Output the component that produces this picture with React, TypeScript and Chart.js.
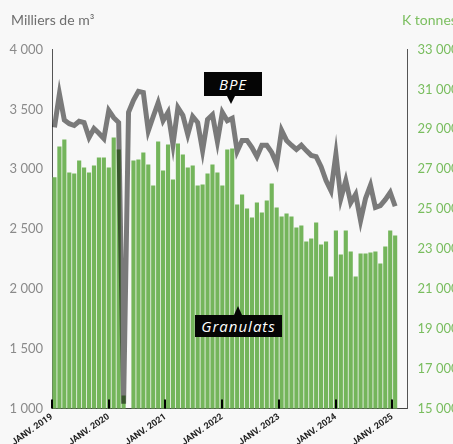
import React, { useEffect, useRef } from 'react';
import Chart from 'chart.js/auto';

// Categories: monthly slots of the x axis (Jan 2019 – Dec 2024)
const monthNames = ['janv.', 'févr.', 'mars', 'avr.', 'mai', 'juin', 'juil.', 'août', 'sept.', 'oct.', 'nov.', 'déc.'];
const years = [2019, 2020, 2021, 2022, 2023, 2024];
const categories = years.flatMap((y) => monthNames.map((m) => `${m} ${y}`));

// Year tick labels shown on the axis
const yearTicks = [2019, 2020, 2021, 2022, 2023, 2024, 2025];

// Granulats (K tonnes, right axis)
const granulats: (number | null)[] = [
  26600, 28140, 28490, 26830, 26780, 27430, 27080, 26830, 27180, 27590,
  27590, 27080, 28590, 27990, 15650, null, 27430, 27490, 27840, 27230,
  26180, 28390, 26930, 28240, 26480, 28290, 27740, 27080, 27180, 26180,
  26230, 26780, 27230, 26830, 26180, 27990, 28040, 25230, 25730, 25030,
  24580, 25330, 24830, 25430, 26280, 25080, 24630, 24780, 24630, 24080,
  24180, 23370, 23520, 24330, 23220, 23370, 21620, 23930, 22720, 23930,
  22870, 21620, 22770, 22770, 22820, 22870, 22270, 23120, 23930, 23670,
];

// BPE (milliers de m³, left axis)
const bpe: number[] = [
  3350, 3630, 3410, 3380, 3365, 3400, 3390, 3265, 3340, 3300,
  3255, 3490, 3430, 3390, 1040, 3475, 3575, 3650, 3640, 3320,
  3440, 3555, 3405, 3475, 3205, 3515, 3450, 3290, 3440, 3390,
  3155, 3415, 3455, 3230, 3475, 3405, 3425, 3150, 3240, 3240,
  3180, 3105, 3200, 3200, 3140, 3045, 3325, 3240, 3200, 3165,
  3200, 3155, 3115, 3105, 3020, 2905, 2820, 3125, 2755, 2905,
  2720, 2790, 2570, 2755, 2865, 2680, 2695, 2745, 2805, 2690,
];

// Axis ranges
const leftRange = [1000, 4000];
const leftStep = 500;
const rightRange = [15000, 33000];
const rightStep = 2000;

const fmt = (v: number) => String(v).replace(/\B(?=(\d{3})+(?!\d))/g, ' ');

export default function App() {
  const ref = useRef<HTMLCanvasElement>(null);

  useEffect(() => {
    const canvas = ref.current;
    if (!canvas) return;

    const blend = {
      id: 'blend',
      beforeDatasetDraw(chart: any, args: any) {
        if (args.meta.type === 'line') {
          chart.ctx.save();
          chart.ctx.globalCompositeOperation = 'multiply';
        }
      },
      afterDatasetDraw(chart: any, args: any) {
        if (args.meta.type === 'line') chart.ctx.restore();
      },
    };

    const yearMarks = {
      id: 'yearMarks',
      afterDatasetsDraw(chart: any) {
        const s = chart.scales.xt;
        const { bottom } = chart.chartArea;
        const c = chart.ctx;
        c.save();
        c.fillStyle = '#000';
        yearTicks.forEach((y) => {
          const x = s.getPixelForValue(y);
          c.fillRect(Math.round(x) - 1, bottom - 9, 2, 9);
        });
        c.restore();
      },
    };

    const chart = new Chart(canvas, {
      type: 'bar',
      data: {
        labels: categories,
        datasets: [
          {
            type: 'line',
            label: 'BPE',
            data: bpe,
            yAxisID: 'y',
            xAxisID: 'x',
            borderColor: '#7a7a7a',
            borderWidth: 5,
            pointRadius: 0,
            tension: 0,
            order: 0,
          } as any,
          {
            type: 'bar',
            label: 'Granulats',
            data: granulats,
            yAxisID: 'y2',
            xAxisID: 'x',
            backgroundColor: '#74b55b',
            categoryPercentage: 1,
            barPercentage: 0.84,
            order: 1,
          } as any,
        ],
      },
      options: {
        responsive: false,
        animation: false,
        devicePixelRatio: 1,
        layout: { padding: { top: 49.5, left: 0, right: 0, bottom: 0 } },
        plugins: { legend: { display: false }, tooltip: { enabled: false } },
        scales: {
          x: { type: 'category', display: false, offset: true },
          xt: {
            type: 'linear',
            position: 'bottom',
            offset: false,
            min: 2019,
            max: 2025.268,
            afterFit: (s: any) => { s.height = 35.5; },
            grid: { display: false, drawTicks: false, offset: false },
            border: { display: true, color: '#444', dash: [1, 2] },
            ticks: {
              stepSize: 1,
              includeBounds: false,
              autoSkip: false,
              minRotation: 35,
              maxRotation: 35,
              padding: 3,
              color: '#222',
              font: { family: 'Roboto, sans-serif', size: 9, weight: 'bold' },
              callback: (v: any) => 'JANV. ' + v,
            },
          } as any,
          y: {
            position: 'left',
            min: leftRange[0],
            max: leftRange[1],
            afterFit: (s: any) => { s.width = 52; },
            grid: { display: false, drawTicks: false },
            border: { display: true, color: '#555', dash: [1, 2] },
            ticks: {
              stepSize: leftStep,
              padding: 9,
              color: '#8a8a8a',
              font: { family: 'Lato', size: 13 },
              callback: (v: any) => fmt(v),
            },
          } as any,
          y2: {
            position: 'right',
            min: rightRange[0],
            max: rightRange[1],
            afterFit: (s: any) => { s.width = 45.5; },
            grid: { display: false, drawTicks: false },
            border: { display: true, color: '#555', dash: [1, 2] },
            ticks: {
              stepSize: rightStep,
              padding: 10,
              color: '#79bd5e',
              font: { family: 'Lato', size: 13 },
              callback: (v: any) => fmt(v),
            },
          } as any,
        },
      },
      plugins: [blend, yearMarks],
    });
    return () => chart.destroy();
  }, []);

  const boxText: React.CSSProperties = {
    position: 'absolute',
    background: '#050505',
    color: '#fff',
    fontFamily: '"Open Sans", sans-serif',
    fontStyle: 'italic',
    fontSize: 15,
    letterSpacing: 1,
    display: 'flex',
    alignItems: 'center',
    justifyContent: 'center',
  };

  return (
    <div style={{ position: 'relative', width: 453, height: 444, overflow: 'hidden', background: '#f8f8f8' }}>
      <style>{`body{margin:0;background:#f8f8f8}`}</style>
      <canvas ref={ref} width={453} height={444} style={{ position: 'absolute', left: 0, top: 0, width: 453, height: 444 }} />
      <div style={{ position: 'absolute', left: 11, top: 13, fontFamily: 'Lato', fontSize: 14, lineHeight: '14px', color: '#6e6e6e', whiteSpace: 'nowrap' }}>
        Milliers de m³
      </div>
      <div style={{ position: 'absolute', left: 402, top: 13, fontFamily: 'Lato', fontSize: 14, lineHeight: '14px', color: '#7cbf60', whiteSpace: 'nowrap' }}>
        K tonnes
      </div>
      <div style={{ ...boxText, left: 204, top: 72, width: 58, height: 24 }}>BPE</div>
      <div style={{ position: 'absolute', left: 227, top: 96, width: 0, height: 0, borderLeft: '4px solid transparent', borderRight: '4px solid transparent', borderTop: '8px solid #050505' }} />
      <div style={{ ...boxText, left: 195, top: 315, width: 87, height: 22 }}>Granulats</div>
      <div style={{ position: 'absolute', left: 234, top: 306, width: 0, height: 0, borderLeft: '4px solid transparent', borderRight: '4px solid transparent', borderBottom: '9px solid #050505' }} />
    </div>
  );
}
